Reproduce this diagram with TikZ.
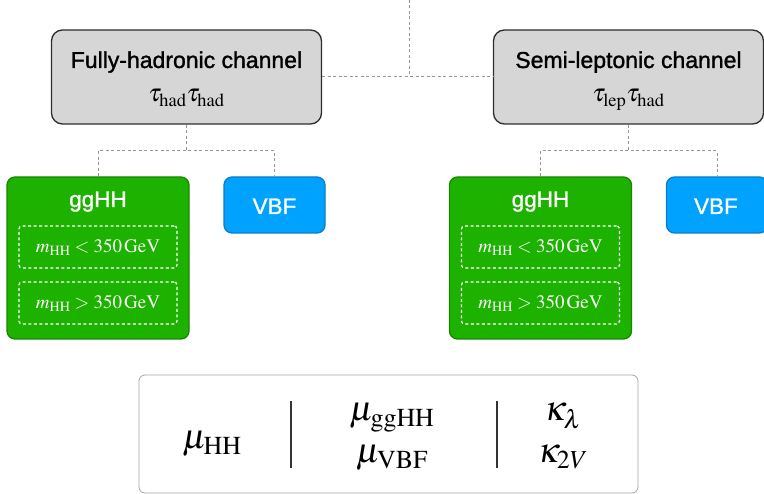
\documentclass[tikz,border=0pt]{standalone}
\usepackage{mathptmx}
\usepackage[no-math]{fontspec}
\newfontfamily\hv[FakeBold=1.3]{Liberation Sans}
\definecolor{boxgray}{RGB}{214,214,214}
\definecolor{boxedge}{RGB}{45,45,45}
\definecolor{ggfill}{RGB}{29,177,0}
\definecolor{ggedge}{RGB}{24,135,0}
\definecolor{vbffill}{RGB}{0,162,255}
\definecolor{vbfedge}{RGB}{10,125,200}
\definecolor{conn}{RGB}{150,150,150}
\begin{document}
\begin{tikzpicture}[x=1pt,y=-1pt,
  chan/.style={draw=boxedge, fill=boxgray, line width=1.3pt, rounded corners=11pt,
    minimum width=270pt, minimum height=94pt, inner sep=0pt},
  ggbox/.style={draw=ggedge, fill=ggfill, line width=1.3pt, rounded corners=8pt,
    minimum width=182pt, minimum height=162pt, inner sep=0pt},
  vbfbox/.style={draw=vbfedge, fill=vbffill, line width=1.3pt, rounded corners=8pt,
    minimum width=101pt, minimum height=56pt, inner sep=0pt},
  cutbox/.style={draw=white, line width=1.3pt, dash pattern=on 3pt off 2.5pt, rounded corners=3pt,
    minimum width=158pt, minimum height=42pt, inner sep=0pt},
  conline/.style={draw=conn, line width=1pt, dash pattern=on 3pt off 2.5pt},
  ttl/.style={font=\hv\fontsize{23}{28}\selectfont, anchor=base, inner sep=0pt},
  sub/.style={font=\fontsize{25}{30}\selectfont, anchor=base, inner sep=0pt},
  wtxt/.style={font=\hv\fontsize{22.5}{28}\selectfont, text=white, anchor=base, inner sep=0pt},
  cut/.style={font=\fontsize{19}{23}\selectfont, text=white, anchor=base, inner sep=0pt},
  par/.style={font=\fontsize{35}{40}\selectfont, anchor=base, inner sep=0pt},
]
\useasboundingbox (0,0) rectangle (764,494);

% top channel boxes
\node[chan] (lbox) at (186.5,77) {};
\node[ttl] (lt) at (186.5,68) {Fully-hadronic channel};
\node[sub] (ls) at (186.5,102) {$\tau_{\mathrm{had}}\tau_{\mathrm{had}}$};
\node[chan] (rbox) at (628.5,77) {};
\node[ttl] (rt) at (628.5,68) {Semi-leptonic channel};
\node[sub] (rs) at (628.5,102) {$\tau_{\mathrm{lep}}\tau_{\mathrm{had}}$};

% top connectors
\coordinate (top) at (409,0);
\coordinate (topj) at (409,77);
\draw[conline] (lbox.east) -- (rbox.west);
\draw[conline] (top) -- (topj);

% left production boxes
\node[ggbox] (lgg) at (98,258) {};
\node[wtxt] (lggt) at (98,207) {ggHH};
\node[cutbox] (lc1) at (98,247) {};
\node[cut] at (98,253) {$m_{\mathrm{HH}} < 350\,\mathrm{GeV}$};
\node[cutbox] (lc2) at (98,303) {};
\node[cut] at (98,309) {$m_{\mathrm{HH}} > 350\,\mathrm{GeV}$};
\node[vbfbox] (lvbf) at (274.5,205) {};
\node[wtxt] (lvbft) at (274.5,214) {VBF};

% right production boxes
\node[ggbox] (rgg) at (540.5,258) {};
\node[wtxt] (rggt) at (540.5,207) {ggHH};
\node[cutbox] (rc1) at (540.5,247) {};
\node[cut] at (540.5,253) {$m_{\mathrm{HH}} < 350\,\mathrm{GeV}$};
\node[cutbox] (rc2) at (540.5,303) {};
\node[cut] at (540.5,309) {$m_{\mathrm{HH}} > 350\,\mathrm{GeV}$};
\node[vbfbox] (rvbf) at (717,205) {};
\node[wtxt] (rvbft) at (716,214) {VBF};

% lower connectors
\coordinate (lj) at (186.5,151);
\coordinate (rj) at (628.5,151);
\draw[conline] (lbox.south) -- (lj);
\draw[conline] (lgg.north) |- (lj) -| (lvbf.north);
\draw[conline] (rbox.south) -- (rj);
\draw[conline] (rgg.north) |- (rj) -| (rvbf.north);

% parameter box
\node[draw=black!35, line width=0.8pt, rounded corners=6pt, fill=white,
  minimum width=499pt, minimum height=118pt, inner sep=0pt] (pbox) at (388.5,434) {};
\coordinate (s1a) at (291,401);
\coordinate (s1b) at (291,468);
\coordinate (s2a) at (497,401);
\coordinate (s2b) at (497,468);
\draw[black!80, line width=1.2pt] (s1a) -- (s1b);
\draw[black!80, line width=1.2pt] (s2a) -- (s2b);
\node[par] (muhh) at (212,449) {$\mu_{\mathrm{HH}}$};
\node[par] (mugg) at (392,421) {$\mu_{\mathrm{ggHH}}$};
\node[par] (muvbf) at (392,463) {$\mu_{\mathrm{VBF}}$};
\node[par] (kl) at (563,421) {$\kappa_{\lambda}$};
\node[par] (kv) at (563,463) {$\kappa_{2V}$};
\end{tikzpicture}
\end{document}
